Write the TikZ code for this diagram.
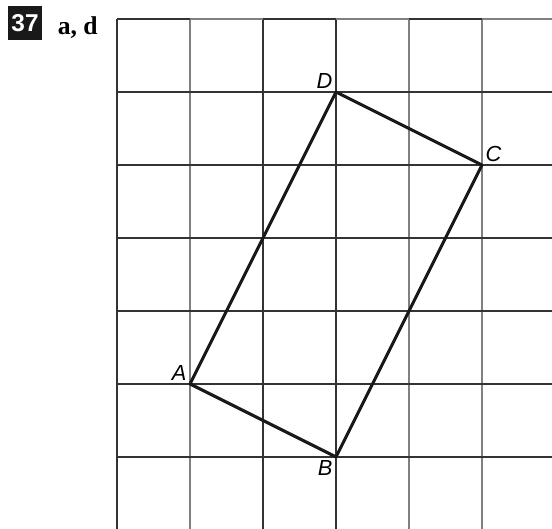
\documentclass[tikz,border=0pt]{standalone}
\usepackage{fontspec}
\setmainfont{Liberation Serif}
\setsansfont{Liberation Sans}
\usetikzlibrary{positioning}

\tikzset{
	gridline/.style={draw=black!80, line width=0.45pt},
	gridlight/.style={draw=black!50, line width=0.45pt},
	side/.style={draw=black!90, line width=1.2pt, line join=round},
	ptlabel/.style={inner sep=1.2pt, font=\sffamily\itshape\fontsize{8.5}{10}\selectfont},
	numbox/.style={fill=black!90, text=white, minimum size=0.47cm, inner sep=0pt,
	               font=\sffamily\bfseries\fontsize{9.5}{11}\selectfont}
}

\begin{document}
\begin{tikzpicture}
	\useasboundingbox (-1.603,-0.986) rectangle (5.959,6.26);

	% grid
	\foreach \i in {0,2,3}
		\draw[gridline] (\i,-0.986) -- (\i,6);
	\foreach \i in {1,4,5}
		\draw[gridlight] (\i,-0.986) -- (\i,6);
	\foreach \j in {0,...,5}
		\draw[gridline] (0,\j) -- (5.959,\j);
	\draw[gridlight] (0,6) -- (5.959,6);
	\foreach \i in {0,2,4}
		\draw[gridline] (\i,6) -- ++(1,0);

	% heading
	\node[numbox] (num) at (-1.26,5.945) {37};
	\node[right=0.2cm of num, yshift=-0.06cm, inner sep=0pt,
	      font=\bfseries\fontsize{10}{12}\selectfont] (part) {a, d};

	% rectangle ABCD
	\coordinate (A) at (1,1);
	\coordinate (B) at (3,0);
	\coordinate (C) at (5,4);
	\coordinate (D) at (3,5);
	\draw[side] (A) -- (B) -- (C) -- (D) -- cycle;

	\node[ptlabel, above left=0pt of A] (labA) {A};
	\node[ptlabel, below left=0pt of B] (labB) {B};
	\node[ptlabel, above right=0pt of C] (labC) {C};
	\node[ptlabel, above left=0pt of D] (labD) {D};
\end{tikzpicture}
\end{document}
